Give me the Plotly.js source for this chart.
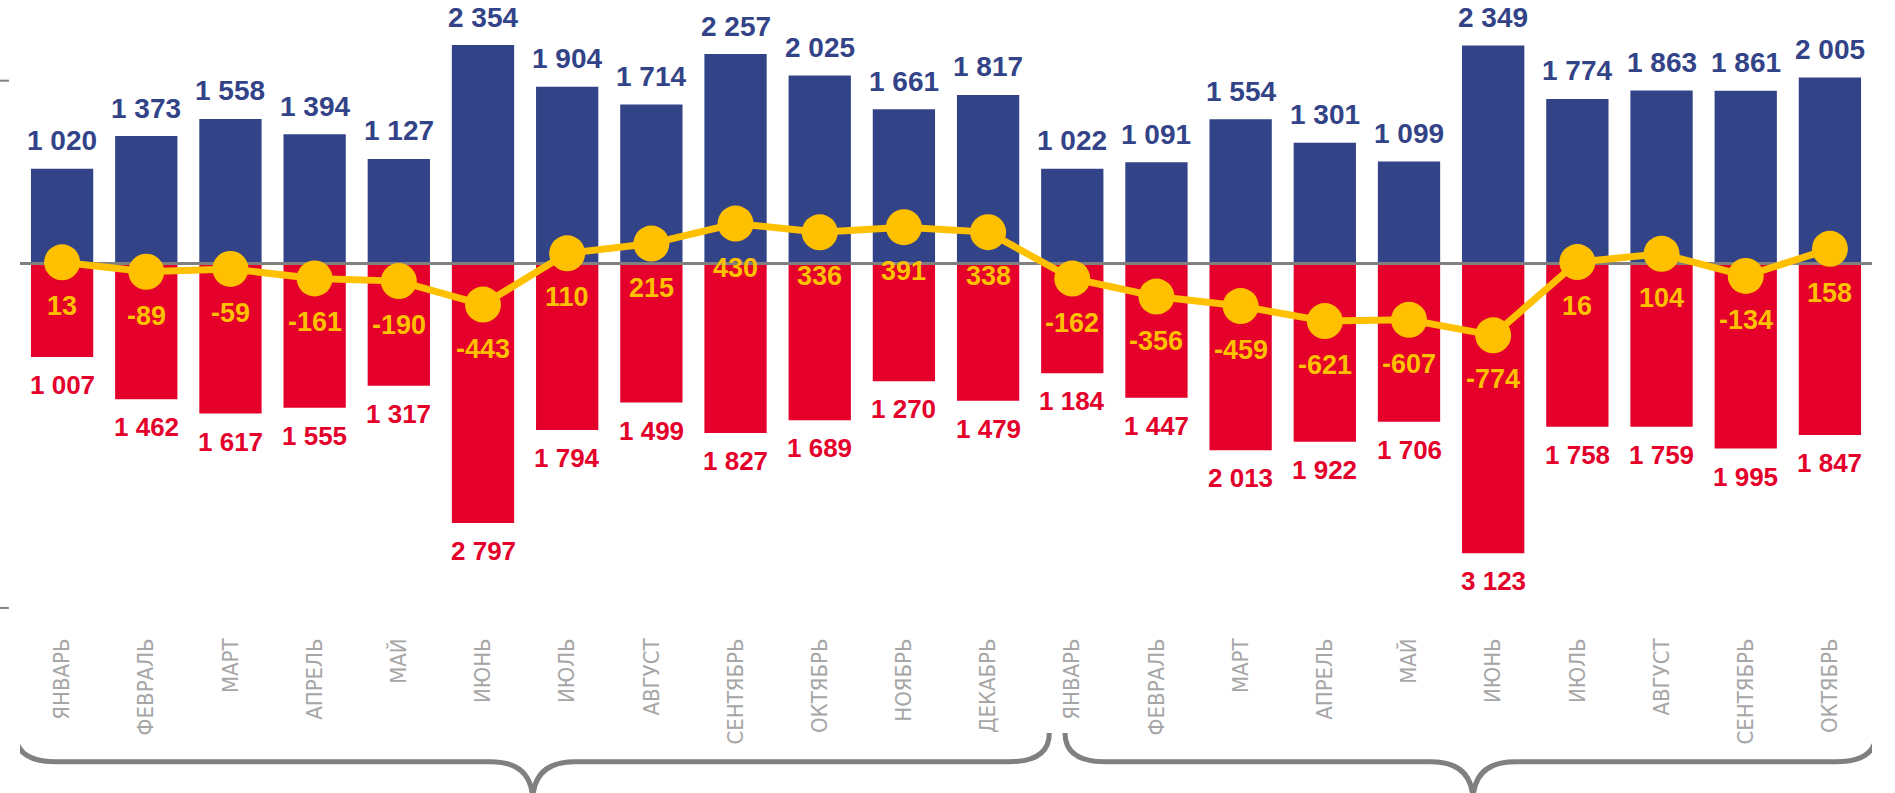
<!DOCTYPE html>
<html>
<head>
<meta charset="utf-8">
<script src="https://cdn.plot.ly/plotly-3.0.1.min.js"></script>
<style>
  html, body { margin: 0; padding: 0; background: #ffffff; }
  #chart { width: 1895px; height: 793px; }
</style>
</head>
<body>
<div id="chart"></div>
<script>
// ---- data ----
const months = ["ЯНВАРЬ","ФЕВРАЛЬ","МАРТ","АПРЕЛЬ","МАЙ","ИЮНЬ","ИЮЛЬ","АВГУСТ","СЕНТЯБРЬ","ОКТЯБРЬ","НОЯБРЬ","ДЕКАБРЬ",
                "ЯНВАРЬ","ФЕВРАЛЬ","МАРТ","АПРЕЛЬ","МАЙ","ИЮНЬ","ИЮЛЬ","АВГУСТ","СЕНТЯБРЬ","ОКТЯБРЬ"];
const inflow  = [1020,1373,1558,1394,1127,2354,1904,1714,2257,2025,1661,1817,1022,1091,1554,1301,1099,2349,1774,1863,1861,2005];
const outflow = [1007,1462,1617,1555,1317,2797,1794,1499,1827,1689,1270,1479,1184,1447,2013,1922,1706,3123,1758,1759,1995,1847];
const balance = [13,-89,-59,-161,-190,-443,110,215,430,336,391,338,-162,-356,-459,-621,-607,-774,16,104,-134,158];

// ---- styles ----
const BLUE = "#334387", RED = "#E4002B", YELLOW = "#FFC000", GREY = "#808080";
const idx = months.map((_, i) => i);
const fmt = v => String(v).replace(/\B(?=(\d{3})+(?!\d))/g, " ");

const traces = [
  { type: "bar", x: idx, y: inflow, marker: { color: BLUE }, hoverinfo: "skip" },
  { type: "bar", x: idx, y: outflow.map(v => -v), marker: { color: RED }, hoverinfo: "skip" },
  { type: "scatter", mode: "lines", x: [-0.5, months.length - 0.5], y: [0, 0],
    line: { color: GREY, width: 3 }, hoverinfo: "skip" },
  { type: "scatter", mode: "lines+markers", x: idx, y: balance,
    line: { color: YELLOW, width: 7 }, marker: { color: YELLOW, size: 36 }, hoverinfo: "skip" }
];

const lab = { family: "Liberation Sans, Arial, sans-serif", weight: "bold" };
const annotations = [];
idx.forEach(i => {
  annotations.push({ x: i, y: inflow[i], text: fmt(inflow[i]), showarrow: false, yanchor: "middle", yshift: 28,
    font: Object.assign({ size: 28, color: BLUE }, lab) });
  annotations.push({ x: i, y: -outflow[i], text: fmt(outflow[i]), showarrow: false, yanchor: "middle", yshift: -28,
    font: Object.assign({ size: 26, color: RED }, lab) });
  annotations.push({ x: i, y: balance[i], text: String(balance[i]), showarrow: false, yanchor: "middle", yshift: -44,
    font: Object.assign({ size: 27, color: YELLOW }, lab) });
});

// curly braces under the two year groups
function brace(x0, xc, x1) {
  const yT = -0.163, yH = -0.210, yB = -0.275, r = 0.48, rc = 0.5;
  return {
    type: "path", xref: "x", yref: "paper", layer: "above",
    path: `M ${x0},${yT} Q ${x0},${yH} ${x0 + r},${yH} L ${xc - rc},${yH} Q ${xc},${yH} ${xc},${yB} ` +
          `Q ${xc},${yH} ${xc + rc},${yH} L ${x1 - r},${yH} Q ${x1},${yH} ${x1},${yT}`,
    line: { color: GREY, width: 5 }, fillcolor: "rgba(0,0,0,0)"
  };
}
const shapes = [
  brace(-0.554, 5.59, 11.727),
  brace(11.914, 16.76, 21.55),
  { type: "line", xref: "paper", yref: "y", x0: -0.0108, x1: -0.0015, y0: 1970, y1: 1970,
    line: { color: GREY, width: 2, dash: "dash" } },
  { type: "line", xref: "paper", yref: "y", x0: -0.0108, x1: -0.006, y0: -3712, y1: -3712,
    line: { color: GREY, width: 2 } }
];

const layout = {
  width: 1895, height: 793,
  margin: { l: 20, r: 23, t: 20, b: 160 },
  paper_bgcolor: "#ffffff", plot_bgcolor: "#ffffff",
  showlegend: false,
  barmode: "relative", bargap: 0.26,
  xaxis: {
    range: [-0.5, months.length - 0.5], tickmode: "array", tickvals: idx, ticktext: months,
    tickangle: -90, showgrid: false, zeroline: false, showline: false, ticks: "",
    tickfont: { family: "DejaVu Sans Condensed, Liberation Sans Narrow, Liberation Sans, sans-serif", size: 22, color: "#A6A6A6" }
  },
  yaxis: { range: [-3982, 2624], visible: false, showgrid: false, zeroline: false },
  annotations: annotations,
  shapes: shapes,
  hovermode: false
};

Plotly.newPlot("chart", traces, layout, { displayModeBar: false, staticPlot: true });
</script>
</body>
</html>
